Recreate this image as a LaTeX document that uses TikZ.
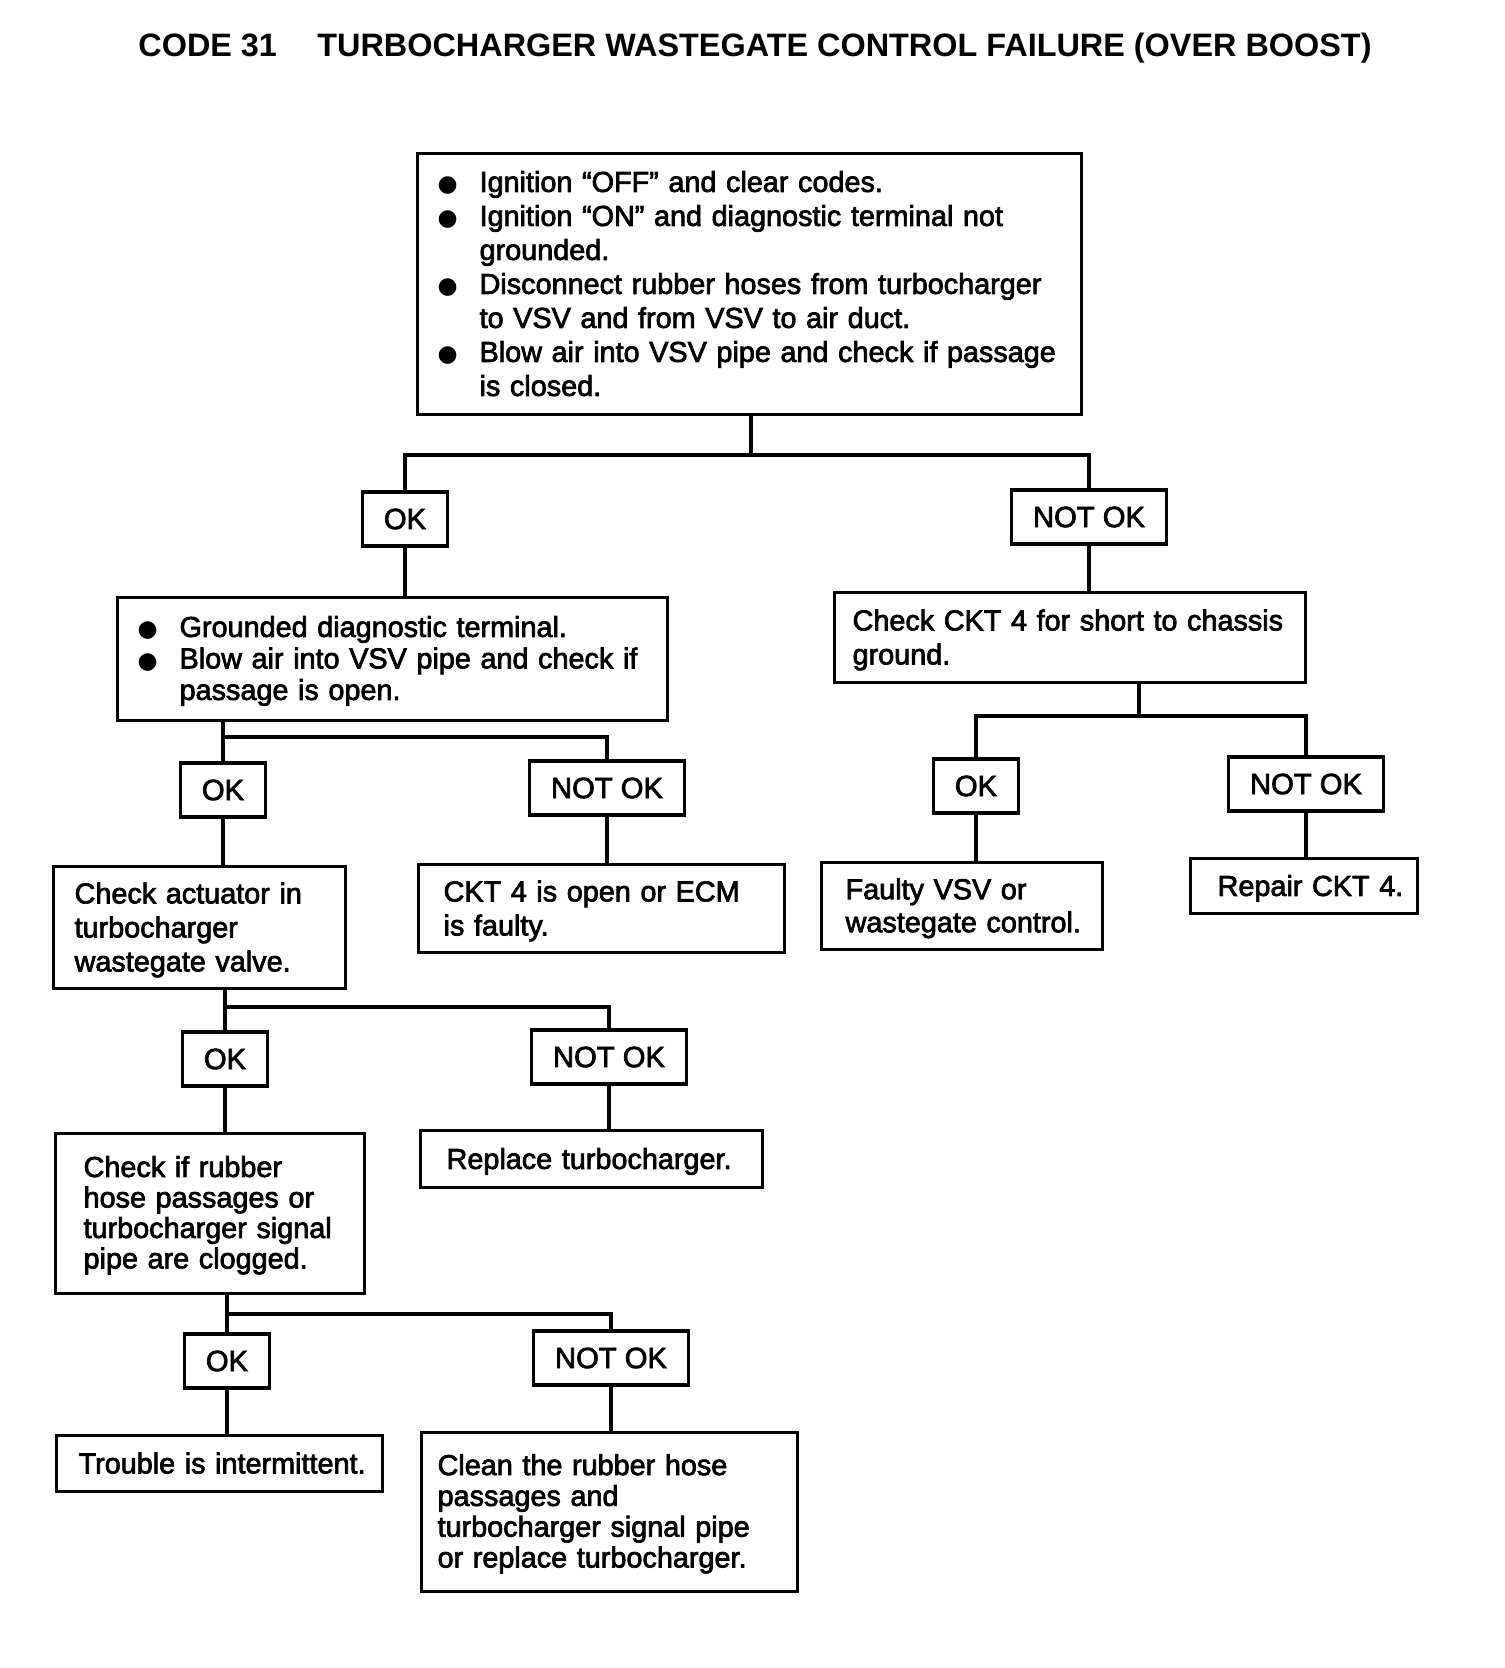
\documentclass[tikz,border=0pt]{standalone}
\usepackage{fontspec}
\setmainfont{Liberation Sans}
\newfontfamily\bodyfont{Liberation Sans}[FakeBold=2.5]
\newfontfamily\bulfont{DejaVu Sans}
\newcommand\bul{\makebox[21pt][l]{\bulfont\fontsize{11.5}{11.5}\selectfont ●}}
\begin{document}
\begin{tikzpicture}[x=0.5pt,y=-0.5pt,
  every node/.style={inner sep=0pt},
  box/.style={draw,line width=1.6pt,anchor=north west,align=left,inner sep=0pt},
  bx/.style n args={3}{box,text width=#1,minimum height=#2,font=\bodyfont\fontsize{14.4}{#3}\selectfont},
  lbl/.style={draw,line width=1.6pt,minimum height=27pt,font=\bodyfont\fontsize{14.6}{17}\selectfont},
  okb/.style={lbl,minimum width=42.5pt},
  nokb/.style={lbl,minimum width=77.5pt},
  conn/.style={line width=1.6pt},
  ttl/.style={anchor=base west,font=\bfseries\fontsize{16.2}{18}\selectfont}]
\useasboundingbox (0,0) rectangle (1504,1668);
\fill[white] (0,0) rectangle (1504,1668);

% title
\node[ttl] (code) at (138,57) {CODE 31};
\node[ttl] (title) at (317,57) {TURBOCHARGER WASTEGATE CONTROL FAILURE (OVER BOOST)};

% boxes
\node[bx={332pt}{130.5pt}{17pt}] (b1) at (416,152) {\begin{tabular}{@{\hspace{10pt}}l@{}l@{}}
\bul & Ignition “OFF” and clear codes.\\
\bul & Ignition “ON” and diagnostic terminal not\\
 & grounded.\\
\bul & Disconnect rubber hoses from turbocharger\\
 & to VSV and from VSV to air duct.\\
\bul & Blow air into VSV pipe and check if passage\\
 & is closed.\\[-3pt]
\end{tabular}};

\node[bx={275pt}{61.5pt}{15.75pt}] (b2) at (116,596) {\begin{tabular}{@{\hspace{10pt}}l@{}l@{}}
\bul & Grounded diagnostic terminal.\\
\bul & Blow air into VSV pipe and check if\\
 & passage is open.\\[-3pt]
\end{tabular}};

\node[bx={235.5pt}{45pt}{17pt}] (b3) at (833,591) {\begin{tabular}{@{\hspace{9pt}}l@{}}
Check CKT 4 for short to chassis\\
ground.\\[-3pt]
\end{tabular}};

\node[bx={146pt}{61pt}{17pt}] (b4) at (52,865) {\begin{tabular}{@{\hspace{10.5pt}}l@{}}
Check actuator in\\
turbocharger\\
wastegate valve.\\[-3pt]
\end{tabular}};

\node[bx={183pt}{44pt}{17pt}] (b5) at (417,863) {\begin{tabular}{@{\hspace{12.5pt}}l@{}}
CKT 4 is open or ECM\\
is faulty.\\[-3pt]
\end{tabular}};

\node[bx={140.5pt}{43.5pt}{16.5pt}] (b6) at (820,861) {\begin{tabular}{@{\hspace{12pt}}l@{}}
Faulty VSV or\\
wastegate control.\\[-3pt]
\end{tabular}};

\node[bx={113.5pt}{27.5pt}{17pt}] (b7) at (1189,857) {\begin{tabular}{@{\hspace{13.5pt}}l@{}}
Repair CKT 4.\\[-3pt]
\end{tabular}};

\node[bx={154.5pt}{80pt}{15.25pt}] (b8) at (54,1132) {\begin{tabular}{@{\hspace{14pt}}l@{}}
Check if rubber\\
hose passages or\\
turbocharger signal\\
pipe are clogged.\\[-3pt]
\end{tabular}};

\node[bx={171pt}{28.5pt}{17pt}] (b9) at (419,1129) {\begin{tabular}{@{\hspace{13pt}}l@{}}
Replace turbocharger.\\[-3pt]
\end{tabular}};

\node[bx={163pt}{28pt}{17pt}] (b10) at (55,1434) {\begin{tabular}{@{\hspace{11pt}}l@{}}
Trouble is intermittent.\\[-3pt]
\end{tabular}};

\node[bx={188pt}{79.5pt}{15.4pt}] (b11) at (420,1431) {\begin{tabular}{@{\hspace{8pt}}l@{}}
Clean the rubber hose\\
passages and\\
turbocharger signal pipe\\
or replace turbocharger.\\[-3pt]
\end{tabular}};

% OK / NOT OK labels
\node[okb] (ok1) at (405,519) {OK};
\node[nokb] (nok1) at (1089,517) {NOT OK};
\node[okb] (ok2) at (223,790) {OK};
\node[nokb] (nok2) at (607,788) {NOT OK};
\node[okb] (ok3) at (976,786) {OK};
\node[nokb] (nok3) at (1306,784) {NOT OK};
\node[okb] (ok4) at (225,1059) {OK};
\node[nokb] (nok4) at (609,1057) {NOT OK};
\node[okb] (ok5) at (227,1361) {OK};
\node[nokb] (nok5) at (611,1358) {NOT OK};

% junctions
\coordinate (j1) at (751,455);
\coordinate (j2) at (223,737);
\coordinate (j3) at (1139,716);
\coordinate (j4) at (225,1007);
\coordinate (j5) at (227,1314);

\draw[conn] (b1.south -| j1) -- (j1);
\draw[conn] (ok1.north) |- (j1) -| (nok1.north);
\draw[conn] (b2.south -| j2) -- (j2);
\draw[conn] (ok2.north) |- (j2) -| (nok2.north);
\draw[conn] (b3.south -| j3) -- (j3);
\draw[conn] (ok3.north) |- (j3) -| (nok3.north);
\draw[conn] (b4.south -| j4) -- (j4);
\draw[conn] (ok4.north) |- (j4) -| (nok4.north);
\draw[conn] (b8.south -| j5) -- (j5);
\draw[conn] (ok5.north) |- (j5) -| (nok5.north);

% label to result
\draw[conn] (ok1.south) -- (ok1.south |- b2.north);
\draw[conn] (nok1.south) -- (nok1.south |- b3.north);
\draw[conn] (ok2.south) -- (ok2.south |- b4.north);
\draw[conn] (nok2.south) -- (nok2.south |- b5.north);
\draw[conn] (ok3.south) -- (ok3.south |- b6.north);
\draw[conn] (nok3.south) -- (nok3.south |- b7.north);
\draw[conn] (ok4.south) -- (ok4.south |- b8.north);
\draw[conn] (nok4.south) -- (nok4.south |- b9.north);
\draw[conn] (ok5.south) -- (ok5.south |- b10.north);
\draw[conn] (nok5.south) -- (nok5.south |- b11.north);
\end{tikzpicture}
\end{document}
